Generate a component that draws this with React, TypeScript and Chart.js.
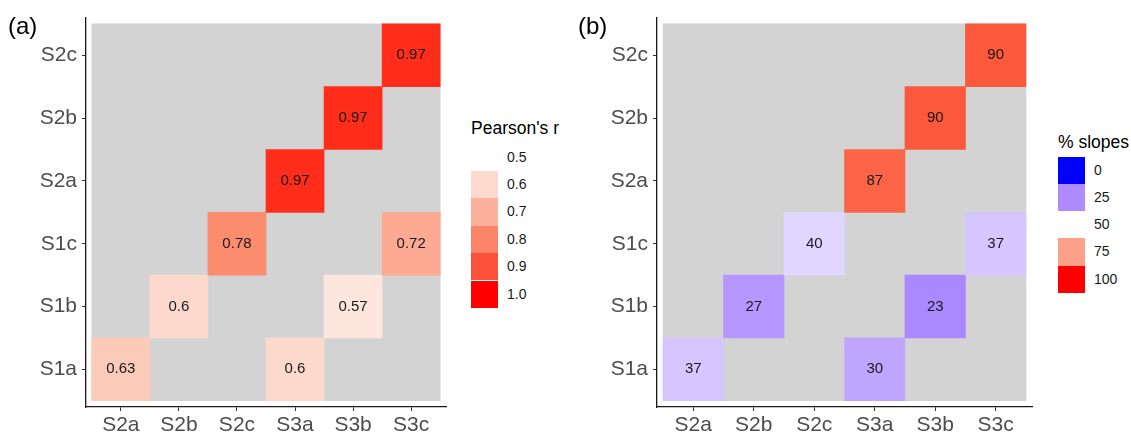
import React, { useEffect, useRef } from "react";
import { Chart, registerables } from "chart.js";
Chart.register(...registerables);

const COLS = ["S2a", "S2b", "S2c", "S3a", "S3b", "S3c"];
const ROWS = ["S1a", "S1b", "S1c", "S2a", "S2b", "S2c"];

// panel (a): Pearson's r
const A_COL = ["S2a", "S3a", "S2b", "S3b", "S2c", "S3c", "S3a", "S3b", "S3c"];
const A_ROW = ["S1a", "S1a", "S1b", "S1b", "S1c", "S1c", "S2a", "S2b", "S2c"];
const A_VAL = [0.63, 0.6, 0.6, 0.57, 0.78, 0.72, 0.97, 0.97, 0.97];
const A_COLORS = ["#FCCAB9", "#FCD9CC", "#FCD9CC", "#FDE6DD", "#FC8C6E", "#FCAA91", "#FF2D1A", "#FF2D1A", "#FF2D1A"];

// panel (b): % slopes
const B_COL = ["S2a", "S3a", "S2b", "S3b", "S2c", "S3c", "S3a", "S3b", "S3c"];
const B_ROW = ["S1a", "S1a", "S1b", "S1b", "S1c", "S1c", "S2a", "S2b", "S2c"];
const B_VAL = [37, 30, 27, 23, 40, 37, 87, 90, 90];
const B_COLORS = ["#D6C6FF", "#C0A5FF", "#B597FF", "#AA88FF", "#E1D6FF", "#D6C6FF", "#FC6448", "#FB583C", "#FB583C"];

const A_LEGEND_TITLE = "Pearson's r";
const A_LEGEND_LABELS = ["0.5", "0.6", "0.7", "0.8", "0.9", "1.0"];
const A_LEGEND_COLORS = ["", "#FEDACE", "#FDB09C", "#FC8469", "#FA5138", "#FF0000"];

const B_LEGEND_TITLE = "% slopes";
const B_LEGEND_LABELS = ["0", "25", "50", "75", "100"];
const B_LEGEND_COLORS = ["#0000FF", "#AE8CFF", "", "#FFA08A", "#FF0000"];

const FONT = "'Liberation Sans', Arial, Helvetica, sans-serif";

type HeatProps = {
  cellCol: string[];
  cellRow: string[];
  vals: number[];
  colors: string[];
  left: number;
  W: number;
  H: number;
  areaLeft: number;
  areaRight: number;
  areaTop: number;
  areaBottom: number;
};

function Heat(p: HeatProps) {
  const ref = useRef<HTMLCanvasElement | null>(null);
  useEffect(() => {
    if (!ref.current) return;
    const cellData = p.vals.map((_, i) => {
      const r = ROWS.indexOf(p.cellRow[i]);
      return { x: COLS.indexOf(p.cellCol[i]), y: [r - 0.5, r + 0.5] };
    });
    const bgData = COLS.map((_, i) => ({ x: i, y: [-0.5, ROWS.length - 0.5] }));
    const labelPlugin = {
      id: "cellLabels",
      afterDatasetsDraw(chart: any) {
        const meta = chart.getDatasetMeta(0);
        const ctx = chart.ctx;
        ctx.save();
        ctx.font = `15px ${FONT}`;
        ctx.fillStyle = "#1A1A1A";
        ctx.textAlign = "center";
        ctx.textBaseline = "middle";
        meta.data.forEach((el: any, i: number) => {
          const c = el.getCenterPoint();
          ctx.fillText(String(p.vals[i]), c.x, c.y);
        });
        ctx.restore();
      },
    };
    const tickFont = { family: FONT, size: 21 };
    const chart = new Chart(ref.current, {
      type: "bar",
      data: {
        datasets: [
          {
            data: cellData as any,
            backgroundColor: p.colors,
            borderWidth: 0,
            grouped: false,
            barPercentage: 1,
            categoryPercentage: 1,
          } as any,
          {
            data: bgData as any,
            backgroundColor: "#D3D3D3",
            borderWidth: 0,
            grouped: false,
            barPercentage: 1,
            categoryPercentage: 1,
          } as any,
        ],
      },
      options: {
        animation: false,
        responsive: false,
        maintainAspectRatio: false,
        layout: { padding: { left: 0, top: p.areaTop, right: p.W - p.areaRight, bottom: 0 } },
        plugins: { legend: { display: false }, tooltip: { enabled: false } },
        scales: {
          x: {
            type: "linear",
            min: -0.6,
            max: COLS.length - 0.4,
            offset: false,
            afterBuildTicks: (s: any) => {
              s.ticks = COLS.map((_, i) => ({ value: i }));
            },
            afterFit: (s: any) => {
              s.height = p.H - p.areaBottom;
            },
            ticks: {
              callback: (v: any) => COLS[v],
              autoSkip: false,
              maxRotation: 0,
              padding: 2,
              color: "#4D4D4D",
              font: tickFont,
            },
            grid: { drawOnChartArea: false, drawTicks: true, tickLength: 4, color: "#333333", offset: false },
            border: { display: true, color: "#1A1A1A", width: 1.3 },
          },
          y: {
            type: "linear",
            min: -0.6,
            max: ROWS.length - 0.4,
            afterBuildTicks: (s: any) => {
              s.ticks = ROWS.map((_, i) => ({ value: i }));
            },
            afterFit: (s: any) => {
              s.width = p.areaLeft;
            },
            ticks: {
              callback: (v: any) => ROWS[v],
              autoSkip: false,
              padding: 5,
              color: "#4D4D4D",
              font: tickFont,
            },
            grid: { drawOnChartArea: false, drawTicks: true, tickLength: 4, color: "#333333" },
            border: { display: true, color: "#1A1A1A", width: 1.3 },
          },
        },
      } as any,
      plugins: [labelPlugin],
    });
    return () => chart.destroy();
  }, []);
  return (
    <canvas
      ref={ref}
      width={p.W}
      height={p.H}
      style={{ position: "absolute", left: p.left, top: 0, width: p.W, height: p.H }}
    />
  );
}

function Legend(props: {
  left: number;
  titleY: number;
  rowTop: number;
  rowH: number;
  title: string;
  labels: string[];
  colors: string[];
}) {
  const { left, titleY, rowTop, rowH, title, labels, colors } = props;
  return (
    <div style={{ position: "absolute", left: 0, top: 0 }}>
      <div
        style={{
          position: "absolute",
          left,
          top: titleY - 10,
          height: 20,
          lineHeight: "20px",
          fontSize: 17.5,
          fontFamily: FONT,
          color: "#000",
          whiteSpace: "nowrap",
        }}
      >
        {title}
      </div>
      {labels.map((l, i) => (
        <React.Fragment key={i}>
          {colors[i] ? (
            <div
              style={{
                position: "absolute",
                left,
                top: rowTop + i * rowH,
                width: 27,
                height: rowH,
                background: colors[i],
              }}
            />
          ) : null}
          <div
            style={{
              position: "absolute",
              left: left + 36,
              top: rowTop + i * rowH,
              height: rowH,
              lineHeight: rowH + "px",
              fontSize: 14,
              fontFamily: FONT,
              color: "#1A1A1A",
              whiteSpace: "nowrap",
            }}
          >
            {l}
          </div>
        </React.Fragment>
      ))}
    </div>
  );
}

export default function App() {
  return (
    <div style={{ position: "absolute", left: 0, top: 0, width: 1131, height: 437, background: "#fff", overflow: "hidden" }}>
      <Heat
        cellCol={A_COL}
        cellRow={A_ROW}
        vals={A_VAL}
        colors={A_COLORS}
        left={0}
        W={460}
        H={437}
        areaLeft={86}
        areaRight={446}
        areaTop={17}
        areaBottom={407}
      />
      <Heat
        cellCol={B_COL}
        cellRow={B_ROW}
        vals={B_VAL}
        colors={B_COLORS}
        left={570}
        W={470}
        H={437}
        areaLeft={87}
        areaRight={462}
        areaTop={17}
        areaBottom={407}
      />
      <div style={{ position: "absolute", left: 8, top: 12, fontSize: 24, lineHeight: "28px", fontFamily: FONT, color: "#000" }}>(a)</div>
      <div style={{ position: "absolute", left: 578, top: 12, fontSize: 24, lineHeight: "28px", fontFamily: FONT, color: "#000" }}>(b)</div>
      <Legend
        left={471}
        titleY={128}
        rowTop={143.5}
        rowH={27.4}
        title={A_LEGEND_TITLE}
        labels={A_LEGEND_LABELS}
        colors={A_LEGEND_COLORS}
      />
      <Legend
        left={1058}
        titleY={142}
        rowTop={156.5}
        rowH={27.3}
        title={B_LEGEND_TITLE}
        labels={B_LEGEND_LABELS}
        colors={B_LEGEND_COLORS}
      />
    </div>
  );
}
